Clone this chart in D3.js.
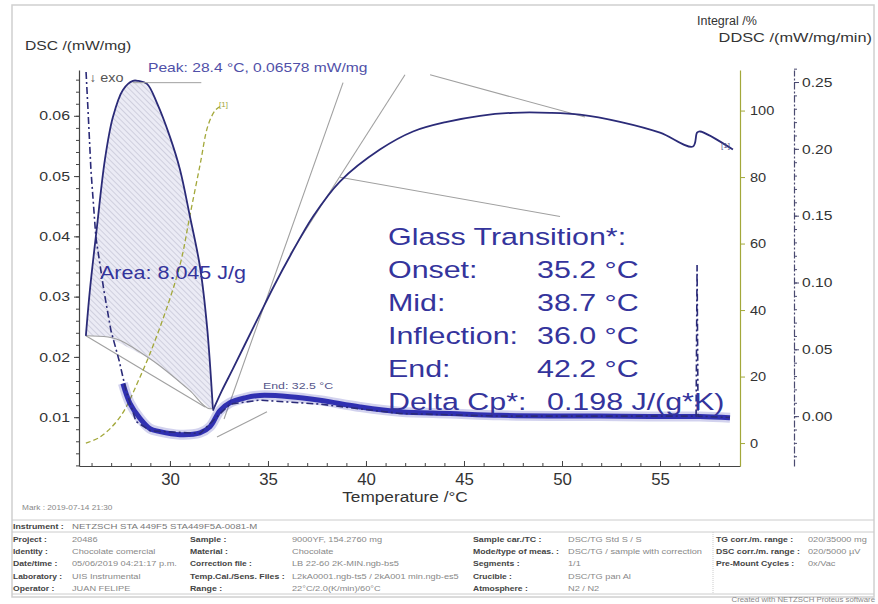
<!DOCTYPE html>
<html><head><meta charset="utf-8">
<script src="https://cdn.jsdelivr.net/npm/d3@7"></script>
<style>
html,body{margin:0;padding:0;background:#fff;}
svg{display:block;font-family:"Liberation Sans",Arial,sans-serif;}
</style></head>
<body>
<svg id="c" width="878" height="604"></svg>
<script>
// ---------- data ----------
const xTicks = [30, 35, 40, 45, 50, 55];
const dscTicks = [0.01, 0.02, 0.03, 0.04, 0.05, 0.06];
const intTicks = [0, 20, 40, 60, 80, 100];
const ddscTicks = [0.00, 0.05, 0.10, 0.15, 0.20, 0.25];

// measured DSC signal (mW/mg)
const dscT = [27.60, 27.96, 28.47, 28.98, 29.49, 30.51, 31.53, 32.04, 32.55, 33.06, 33.83, 34.59, 36.12, 37.65, 39.69, 41.73, 44.29, 46.84, 49.39, 51.94, 54.49, 57.04, 58.57];
const dscV = [0.0156, 0.0123, 0.0098, 0.0081, 0.0076, 0.0071, 0.0074, 0.0084, 0.0111, 0.0124, 0.0132, 0.0136, 0.0134, 0.0128, 0.0117, 0.0109, 0.0106, 0.0103, 0.0102, 0.0102, 0.0101, 0.0101, 0.0099];

// DDSC (mW/mg/min)
const ddscT = [25.72, 25.82, 25.97, 26.22, 26.63, 26.99, 27.40, 27.76, 28.27, 29.00, 31.53, 33.06, 34.59, 37.65, 41.73, 46.84, 51.94, 56.53, 56.84, 56.89, 56.94, 58.57];
const ddscV = [0.2575, 0.229, 0.184, 0.134, 0.094, 0.064, 0.042, 0.019, -0.004, -0.011, -0.013, 0.009, 0.012, 0.009, 0.002, 0.000, 0.000, 0.000, 0.000, 0.113, 0.000, -0.001];

// peak curve (mW/mg)
const peakT = [25.71, 25.92, 26.28, 26.68, 27.09, 27.60, 28.11, 28.40, 28.83, 29.34, 30.00, 30.51, 31.02, 31.53, 31.89, 32.19];
const peakV = [0.0235, 0.0312, 0.0417, 0.0527, 0.0598, 0.0643, 0.0658, 0.06578, 0.0653, 0.0621, 0.0565, 0.0511, 0.0433, 0.0350, 0.0251, 0.0114];

// integration baseline (mW/mg)
const baseT = [25.71, 26.84, 28.98, 31.02, 32.04, 32.19];
const baseV = [0.0235, 0.0233, 0.0197, 0.0144, 0.0114, 0.0114];

// glass transition curve (mW/mg)
const glassT = [32.19, 32.65, 33.21, 33.83, 34.59, 35.36, 36.12, 37.30, 38.67, 40.71, 42.40, 44.13, 45.82, 47.50, 49.39, 50.92, 52.96, 55.00, 56.68, 56.89, 57.04, 58.72];
const glassV = [0.0111, 0.0144, 0.0180, 0.0221, 0.0271, 0.0321, 0.0367, 0.0433, 0.0491, 0.0544, 0.0574, 0.0590, 0.0600, 0.0605, 0.0605, 0.0602, 0.0590, 0.0572, 0.0549, 0.0572, 0.0574, 0.0544];

// integral (%)
const intT = [25.71, 26.43, 27.45, 28.47, 29.49, 30.51, 31.02, 31.53, 31.94, 32.30, 32.55];
const intV = [0, 1.8, 7.8, 19.8, 34.8, 53.5, 68.5, 83.5, 95.5, 100, 101.2];

// evaluation lines [T1, V1, T2, V2] (mW/mg)
const tangents = [
  [32.76, 0.0097, 38.83, 0.0655],
  [36.12, 0.0370, 41.99, 0.0668],
  [43.27, 0.0668, 51.17, 0.0598],
  [38.67, 0.0498, 49.90, 0.0433],
  [32.40, 0.0067, 34.95, 0.0109],
  [25.71, 0.0235, 31.79, 0.0117]
];

const gtLabels = ["Glass Transition*:", "Onset:", "Mid:", "Inflection:", "End:", "Delta Cp*:"];
const gtValues = ["", "35.2 °C", "38.7 °C", "36.0 °C", "42.2 °C", "0.198 J/(g*K)"];

const tableRows = [
  ["Project :", "20486", "Sample :", "9000YF, 154.2760 mg", "Sample car./TC :", "DSC/TG Std S / S", "TG corr./m. range :", "020/35000 mg"],
  ["Identity :", "Chocolate comercial", "Material :", "Chocolate", "Mode/type of meas. :", "DSC/TG / sample with correction", "DSC corr./m. range :", "020/5000 µV"],
  ["Date/time :", "05/06/2019 04:21:17 p.m.", "Correction file :", "LB 22-60 2K-MIN.ngb-bs5", "Segments :", "1/1", "Pre-Mount Cycles :", "0x/Vac"],
  ["Laboratory :", "UIS Instrumental", "Temp.Cal./Sens. Files :", "L2kA0001.ngb-ts5 / 2kA001 min.ngb-es5", "Crucible :", "DSC/TG pan Al", "", ""],
  ["Operator :", "JUAN FELIPE", "Range :", "22°C/2.0(K/min)/60°C", "Atmosphere :", "N2 / N2", "", ""]
];

// ---------- drawing ----------
const svg = d3.select("#c");
const x = d3.scaleLinear().domain([25.36, 59.08]).range([79, 740]);
const yD = d3.scaleLinear().domain([0.0019, 0.0676]).range([466, 70]);
const yI = d3.scaleLinear().domain([-6.9, 112.2]).range([466, 70]);
const yDD = d3.scaleLinear().domain([-0.0373, 0.259]).range([466, 70]);

const navy = "#2b2b78", blue = "#1e1eaa", txtBlue = "#34349c", olive = "#a3a83a", gray = "#a0a0a0";

function stretch(sel, k) {
  sel.each(function () {
    const len = this.getComputedTextLength();
    d3.select(this).attr("textLength", len * k).attr("lengthAdjust", "spacingAndGlyphs");
  });
  return sel;
}

// outer frame
svg.append("rect").attr("x", 12).attr("y", 5).attr("width", 862).attr("height", 592)
  .attr("fill", "none").attr("stroke", "#d0d0d0").attr("stroke-width", 1.5);

// hatch pattern
const defs = svg.append("defs");
const pat = defs.append("pattern").attr("id", "hatch").attr("patternUnits", "userSpaceOnUse")
  .attr("width", 4).attr("height", 4).attr("patternTransform", "rotate(-45)");
pat.append("rect").attr("width", 4).attr("height", 4).attr("fill", "#ebebf5");
pat.append("line").attr("x1", 0).attr("y1", 0).attr("x2", 0).attr("y2", 4).attr("stroke", "#b4b4c8").attr("stroke-width", 1);

// area polygon
const areaPts = peakT.map((t, i) => [x(t), yD(peakV[i])])
  .concat(baseT.map((t, i) => [x(t), yD(baseV[i])]).reverse());
svg.append("path").attr("d", d3.line().curve(d3.curveLinearClosed)(areaPts))
  .attr("fill", "url(#hatch)").attr("stroke", "none");

// evaluation lines
svg.append("g").selectAll("line").data(tangents).join("line")
  .attr("x1", d => x(d[0])).attr("y1", d => yD(d[1]))
  .attr("x2", d => x(d[2])).attr("y2", d => yD(d[3]))
  .attr("stroke", gray).attr("stroke-width", 1.1);
svg.append("path").attr("d", d3.line().curve(d3.curveMonotoneX)(baseT.map((t, i) => [x(t), yD(baseV[i])])))
  .attr("fill", "none").attr("stroke", gray).attr("stroke-width", 1.1);

// integral
svg.append("path").attr("d", d3.line().curve(d3.curveCatmullRom)(intT.map((t, i) => [x(t), yI(intV[i])])))
  .attr("fill", "none").attr("stroke", olive).attr("stroke-width", 1.3).attr("stroke-dasharray", "5,3");

// DSC measured (noisy band)
const dscPath = d3.line().curve(d3.curveCatmullRom)(dscT.map((t, i) => [x(t), yD(dscV[i])]));
svg.append("path").attr("d", dscPath)
  .attr("fill", "none").attr("stroke", blue).attr("stroke-width", 10).attr("stroke-linejoin", "round").attr("opacity", 0.2);
svg.append("path").attr("d", dscPath)
  .attr("fill", "none").attr("stroke", blue).attr("stroke-width", 5).attr("stroke-linejoin", "round").attr("opacity", 0.9);

// DDSC
svg.append("path").attr("d", d3.line()(ddscT.map((t, i) => [x(t), yDD(ddscV[i])])))
  .attr("fill", "none").attr("stroke", navy).attr("stroke-width", 1.6).attr("stroke-dasharray", "7,3,2,3");

// peak curve
svg.append("path").attr("d", d3.line().curve(d3.curveCatmullRom)(peakT.map((t, i) => [x(t), yD(peakV[i])])))
  .attr("fill", "none").attr("stroke", navy).attr("stroke-width", 1.8);
// glass curve
svg.append("path").attr("d", d3.line().curve(d3.curveCatmullRom)(glassT.map((t, i) => [x(t), yD(glassV[i])])))
  .attr("fill", "none").attr("stroke", navy).attr("stroke-width", 1.8);

// ---------- axes ----------
function style(g, col) {
  g.select(".domain").attr("stroke", col).attr("stroke-width", 1.2);
  g.selectAll(".tick line").attr("stroke", col);
  g.selectAll("text").attr("fill", "#333").attr("font-family", "Liberation Sans, Arial, sans-serif");
}
const gx = svg.append("g").attr("transform", "translate(0,466)")
  .call(d3.axisBottom(x).tickValues(xTicks).tickSize(-5).tickPadding(8).tickSizeOuter(0));
style(gx, "#444"); gx.selectAll("text").attr("font-size", 16); stretch(gx.selectAll("text"), 1.05);
svg.append("g").attr("transform", "translate(0,466)")
  .call(d3.axisBottom(x).tickValues(d3.range(26, 59)).tickSize(-3).tickFormat("").tickSizeOuter(0))
  .call(g => { g.select(".domain").remove(); g.selectAll("line").attr("stroke", "#444"); });

const gl = svg.append("g").attr("transform", "translate(79,0)")
  .call(d3.axisLeft(yD).tickValues(dscTicks).tickSize(5).tickPadding(4).tickFormat(d3.format(".2f")).tickSizeOuter(0));
style(gl, "#444"); gl.selectAll("text").attr("font-size", 13); stretch(gl.selectAll("text"), 1.22);
svg.append("g").attr("transform", "translate(79,0)")
  .call(d3.axisLeft(yD).tickValues(d3.range(0.002, 0.067, 0.002)).tickSize(3).tickFormat("").tickSizeOuter(0))
  .call(g => { g.select(".domain").remove(); g.selectAll("line").attr("stroke", "#444"); });

const gi = svg.append("g").attr("transform", "translate(740,0)")
  .call(d3.axisRight(yI).tickValues(intTicks).tickSize(5).tickPadding(5).tickSizeOuter(0));
style(gi, olive); gi.selectAll("text").attr("font-size", 13); stretch(gi.selectAll("text"), 1.12);

const gd = svg.append("g").attr("transform", "translate(794,0)")
  .call(d3.axisRight(yDD).tickValues(ddscTicks).tickSize(5).tickPadding(3).tickFormat(d3.format(".2f")).tickSizeOuter(0));
style(gd, "#4a4a70"); gd.selectAll("text").attr("font-size", 13); stretch(gd.selectAll("text"), 1.2);
gd.select(".domain").attr("stroke-dasharray", "7,2,2,2");
svg.append("g").attr("transform", "translate(794,0)")
  .call(d3.axisRight(yDD).tickValues(d3.range(-0.03, 0.26, 0.01)).tickSize(3).tickFormat("").tickSizeOuter(0))
  .call(g => { g.select(".domain").remove(); g.selectAll("line").attr("stroke", "#4a4a70"); });

// text helper
const T = (xx, yy, s, sz, col, anchor, k) => {
  const t = svg.append("text").attr("x", xx).attr("y", yy).text(s)
    .attr("font-size", sz).attr("fill", col || "#333").attr("text-anchor", anchor || "start");
  stretch(t, k || 1.2);
  return t;
};
T(25, 50, "DSC /(mW/mg)", 13.5, "#333", "start", 1.16);
T(697, 25, "Integral /%", 12.5, "#333", "start", 1.0);
T(872, 42, "DDSC /(mW/mg/min)", 13.5, "#333", "end", 1.21);
T(405, 502, "Temperature /°C", 15.5, "#333", "middle", 1.11);
T(89, 82, "↓ exo", 12, "#555", "start", 1.2);

// annotations
T(148, 72, "Peak: 28.4 °C, 0.06578 mW/mg", 13, "#5050a8", "start", 1.2);
svg.append("line").attr("x1", x(28.1)).attr("x2", x(31.6)).attr("y1", yD(0.0655)).attr("y2", yD(0.0655)).attr("stroke", gray);
T(100, 279, "Area: 8.045 J/g", 17.5, txtBlue, "start", 1.23);
T(263, 389, "End: 32.5 °C", 9.5, "#55558a", "start", 1.3);
T(219, 107, "[1]", 8, olive, "start", 1);
T(721, 148, "[1]", 8, "#55558a", "start", 1);

gtLabels.forEach((s, i) => T(388, 245 + i * 33, s, 24.5, txtBlue, "start", 1.24));
gtValues.forEach((s, i) => { if (s) T(i === 5 ? 547 : 537, 245 + i * 33, s, 24.5, txtBlue, "start", 1.24); });

// footer
T(22, 510, "Mark : 2019-07-14 21:30", 6.5, "#888", "start", 1.27);
[520, 532, 594].forEach(yy => svg.append("line").attr("x1", 12).attr("x2", 874).attr("y1", yy).attr("y2", yy).attr("stroke", "#ccc"));
svg.append("line").attr("x1", 713).attr("x2", 713).attr("y1", 532).attr("y2", 594).attr("stroke", "#ccc").attr("stroke-dasharray", "1,1");
T(13, 529, "Instrument :", 8, "#444", "start", 1.2).attr("font-weight", "bold");
T(72, 529, "NETZSCH STA 449F5 STA449F5A-0081-M", 8, "#777", "start", 1.2);
const colX = [13, 72, 190, 292, 473, 568, 716, 808];
tableRows.forEach((row, r) => {
  row.forEach((s, c) => {
    if (!s) return;
    const t = T(colX[c], 542 + r * 12.2, s, 8, c % 2 === 0 ? "#444" : "#888", "start", 1.15);
    if (c % 2 === 0) t.attr("font-weight", "bold");
  });
});
T(875, 602, "Created with NETZSCH Proteus software", 6.5, "#888", "end", 1.2);
</script>
</body></html>
